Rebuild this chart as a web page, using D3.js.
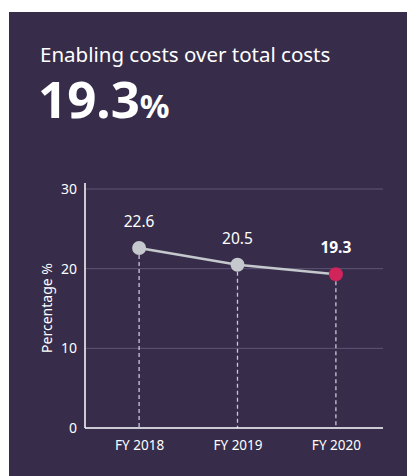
<!DOCTYPE html>
<html>
<head>
<meta charset="utf-8">
<script src="https://cdn.jsdelivr.net/npm/d3@7"></script>
<style>
  body { margin: 0; background: #fff; }
  svg { display: block; font-family: "Noto Sans", "Open Sans", sans-serif; }
</style>
</head>
<body>
<script>
const years = ["FY 2018", "FY 2019", "FY 2020"];
const values = [22.6, 20.5, 19.3];
const yTicks = [0, 10, 20, 30];

const W = 407, H = 476;
const bg = "#372d4b";

const svg = d3.select("body").append("svg").attr("width", W).attr("height", H);

svg.append("rect")
  .attr("x", 9).attr("y", 12)
  .attr("width", W - 9).attr("height", H - 12)
  .style("fill", bg);

svg.append("text")
  .attr("x", 40).attr("y", 62)
  .style("fill", "#fff")
  .style("font-size", "20.5px")
  .text("Enabling costs over total costs");

const big = svg.append("text")
  .attr("x", 38).attr("y", 118)
  .style("fill", "#fff")
  .style("font-weight", "bold");
big.append("tspan").style("font-size", "51px").text("19.3");
big.append("tspan").style("font-size", "33px").text("%");

const xScale = d3.scalePoint().domain(years).range([85, 390]).padding(0.55);
const yScale = d3.scaleLinear().domain([0, 30]).range([428, 189]);

// grid
svg.append("g")
  .selectAll("line")
  .data(yTicks.filter(d => d > 0))
  .enter()
  .append("line")
  .attr("x1", 85).attr("x2", 383)
  .attr("y1", d => yScale(d)).attr("y2", d => yScale(d))
  .style("stroke", "#5e5574")
  .style("stroke-width", "1px");

// y axis
const yAxis = d3.axisLeft(yScale).tickValues(yTicks).tickSize(0).tickPadding(8);
const yG = svg.append("g").attr("transform", "translate(85,0)").call(yAxis);
yG.select(".domain").remove();
yG.selectAll("text").style("fill", "#fff").style("font-size", "14px").style("font-family", "Noto Sans");
svg.append("line")
  .attr("x1", 85).attr("x2", 85)
  .attr("y1", 183).attr("y2", 428)
  .style("stroke", "#fff").style("stroke-width", "1.5px");

// x axis
const xAxis = d3.axisBottom(xScale).tickSize(0).tickPadding(12);
const xG = svg.append("g").attr("transform", "translate(0,428)").call(xAxis);
xG.select(".domain").remove();
xG.selectAll("text").style("fill", "#fff").style("font-size", "13.5px").style("font-family", "Noto Sans");

// dashed drop lines
svg.append("g")
  .selectAll("line")
  .data(values)
  .enter()
  .append("line")
  .attr("x1", (d, i) => xScale(years[i]))
  .attr("x2", (d, i) => xScale(years[i]))
  .attr("y1", d => yScale(d))
  .attr("y2", yScale(0))
  .style("stroke", "#c9c9d2")
  .style("stroke-width", "1.3px")
  .style("stroke-dasharray", "4,3");

svg.append("line")
  .attr("x1", 85).attr("x2", 383)
  .attr("y1", 428).attr("y2", 428)
  .style("stroke", "#fff").style("stroke-width", "1.5px");

// line
const line = d3.line()
  .x((d, i) => xScale(years[i]))
  .y(d => yScale(d));
svg.append("path")
  .datum(values)
  .attr("d", line)
  .style("fill", "none")
  .style("stroke", "#c5c8cc")
  .style("stroke-width", "2.5px");

// points
svg.append("g")
  .selectAll("circle")
  .data(values)
  .enter()
  .append("circle")
  .attr("cx", (d, i) => xScale(years[i]))
  .attr("cy", d => yScale(d))
  .attr("r", 7)
  .style("fill", (d, i) => i === values.length - 1 ? "#d0245a" : "#c5c8cc");

// value labels
svg.append("g")
  .selectAll("text")
  .data(values)
  .enter()
  .append("text")
  .attr("x", (d, i) => xScale(years[i]))
  .attr("y", d => yScale(d) - 21)
  .attr("text-anchor", "middle")
  .style("fill", "#fff")
  .style("font-size", "15.5px")
  .style("font-weight", (d, i) => i === values.length - 1 ? "bold" : "normal")
  .text(d => d.toFixed(1));

// y label
svg.append("text")
  .attr("transform", "translate(52,308) rotate(-90)")
  .attr("text-anchor", "middle")
  .style("fill", "#fff")
  .style("font-size", "14px")
  .text("Percentage %");
</script>
</body>
</html>
